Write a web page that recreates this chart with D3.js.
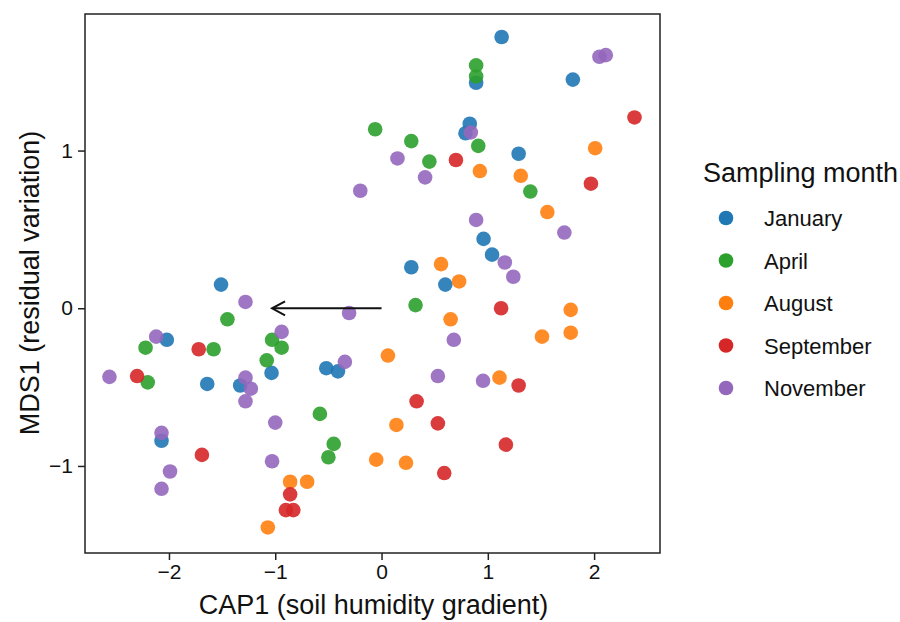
<!DOCTYPE html>
<html>
<head>
<meta charset="utf-8">
<title>CAP1 vs MDS1</title>
<script src="https://d3js.org/d3.v7.min.js"></script>
<style>
  body { margin: 0; background: #fff; }
  svg text { font-family: "Liberation Sans", Arial, Helvetica, sans-serif; fill: #111; }
</style>
</head>
<body>
<div id="chart"></div>
<script>
// months and colours
var months = ["January", "April", "August", "September", "November"];
var colors = ["#1f77b4", "#2ca02c", "#ff7f0e", "#d62728", "#9467bd"];

// [CAP1, MDS1] per month
var january = [[1.13,1.72],[1.80,1.45],[0.89,1.43],[0.83,1.17],[0.79,1.11],[1.29,0.98],[0.96,0.44],[1.04,0.34],
  [0.28,0.26],[0.60,0.15],[-1.51,0.15],[-2.02,-0.20],[-1.64,-0.48],[-1.33,-0.49],[-1.035,-0.41],[-0.52,-0.38],
  [-0.41,-0.40],[-2.07,-0.84]];
var april = [[0.89,1.54],[0.89,1.47],[-0.06,1.135],[0.28,1.06],[0.45,0.93],[0.91,1.03],[1.40,0.74],[0.32,0.02],
  [-1.45,-0.07],[-2.22,-0.25],[-1.58,-0.26],[-1.03,-0.20],[-0.94,-0.25],[-1.08,-0.33],[-2.20,-0.47],[-0.58,-0.67],
  [-0.45,-0.86],[-0.50,-0.945]];
var august = [[2.01,1.015],[0.925,0.87],[1.31,0.84],[1.56,0.61],[0.56,0.28],[0.73,0.17],[0.65,-0.07],[1.78,-0.01],
  [1.78,-0.155],[1.51,-0.18],[0.06,-0.30],[1.11,-0.44],[0.14,-0.74],[-0.05,-0.96],[0.23,-0.98],[-0.86,-1.10],
  [-0.70,-1.10],[-1.07,-1.39]];
var september = [[2.38,1.21],[0.70,0.94],[1.97,0.79],[1.125,0.0],[1.29,-0.49],[0.33,-0.59],[0.53,-0.73],[1.17,-0.865],
  [0.59,-1.045],[-1.72,-0.26],[-2.30,-0.43],[-1.69,-0.93],[-0.86,-1.18],[-0.90,-1.28],[-0.83,-1.28]];
var november = [[2.05,1.595],[2.11,1.605],[0.84,1.115],[-0.20,0.745],[0.15,0.95],[0.41,0.83],[0.89,0.56],[1.72,0.48],
  [1.16,0.29],[1.24,0.20],[-1.28,0.04],[-0.305,-0.03],[-0.94,-0.15],[-2.12,-0.18],[-2.56,-0.435],[-1.28,-0.44],
  [-1.23,-0.51],[-1.28,-0.59],[-0.345,-0.34],[-1.0,-0.725],[-2.07,-0.79],[-1.99,-1.035],[-2.07,-1.145],[-1.03,-0.97],
  [0.68,-0.20],[0.53,-0.43],[0.955,-0.46]];
var series = [january, april, august, september, november];

var xTicks = [-2, -1, 0, 1, 2];
var yTicks = [-1, 0, 1];
// arrow along CAP1 axis
var arrowFrom = [0, 0], arrowTo = [-1.03, 0];

var W = 900, H = 622;
var margin = {top: 14, right: 240, bottom: 69, left: 85};
var width = W - margin.left - margin.right,
    height = H - margin.top - margin.bottom;

var svg = d3.select("#chart").append("svg")
    .attr("width", W)
    .attr("height", H);

var g = svg.append("g")
    .attr("transform", "translate(" + margin.left + "," + margin.top + ")");

var x = d3.scaleLinear().domain([-2.79, 2.62]).range([0, width]);
var y = d3.scaleLinear().domain([-1.552, 1.866]).range([height, 0]);

var fmt = function(d) { return d < 0 ? "\u2212" + Math.abs(d) : d; };

var xAxis = g.append("g")
    .attr("transform", "translate(0," + height + ")")
    .call(d3.axisBottom(x).tickValues(xTicks).tickFormat(fmt).tickSize(7).tickPadding(4));
var yAxis = g.append("g")
    .call(d3.axisLeft(y).tickValues(yTicks).tickFormat(fmt).tickSize(7).tickPadding(5));
[xAxis, yAxis].forEach(function(a) {
  a.select(".domain").remove();
  a.selectAll("line").attr("stroke", "#222").attr("stroke-width", 1.5);
  a.selectAll("text").style("font-size", "21px").attr("fill", "#111")
    .style("font-family", "'Liberation Sans', Arial, sans-serif");
});

// panel border
g.append("rect")
    .attr("width", width)
    .attr("height", height)
    .attr("fill", "none")
    .attr("stroke", "#222")
    .attr("stroke-width", 1.5);

// points
series.forEach(function(pts, i) {
  g.append("g").selectAll("circle")
    .data(pts)
    .enter().append("circle")
      .attr("cx", function(d) { return x(d[0]); })
      .attr("cy", function(d) { return y(d[1]); })
      .attr("r", 7.3)
      .attr("fill", colors[i])
      .attr("fill-opacity", 0.9);
});

// arrow
var ax0 = x(arrowFrom[0]), ax1 = x(arrowTo[0]), ay = y(arrowFrom[1]);
g.append("line")
    .attr("x1", ax0).attr("x2", ax1 + 1).attr("y1", ay).attr("y2", ay)
    .attr("stroke", "#111").attr("stroke-width", 2);
g.append("path")
    .attr("d", "M" + (ax1 + 13) + "," + (ay - 7) + "L" + ax1 + "," + ay + "L" + (ax1 + 13) + "," + (ay + 7))
    .attr("fill", "none").attr("stroke", "#111").attr("stroke-width", 2);

// axis titles
svg.append("text")
    .attr("x", margin.left + x(0) - 8)
    .attr("y", 614)
    .attr("text-anchor", "middle")
    .style("font-size", "27px")
    .text("CAP1 (soil humidity gradient)");
svg.append("text")
    .attr("transform", "translate(39," + (margin.top + y(0.16)) + ") rotate(-90)")
    .attr("text-anchor", "middle")
    .style("font-size", "27px")
    .text("MDS1 (residual variation)");

// legend
var legend = svg.append("g").attr("transform", "translate(703,0)");
legend.append("text")
    .attr("x", 0).attr("y", 182)
    .style("font-size", "27px")
    .text("Sampling month");
months.forEach(function(m, i) {
  var ly = 218 + i * 42.5;
  legend.append("circle")
      .attr("cx", 23).attr("cy", ly).attr("r", 7.3)
      .attr("fill", colors[i]);
  legend.append("text")
      .attr("x", 61).attr("y", ly + 8)
      .style("font-size", "22px")
      .text(m);
});
</script>
</body>
</html>
